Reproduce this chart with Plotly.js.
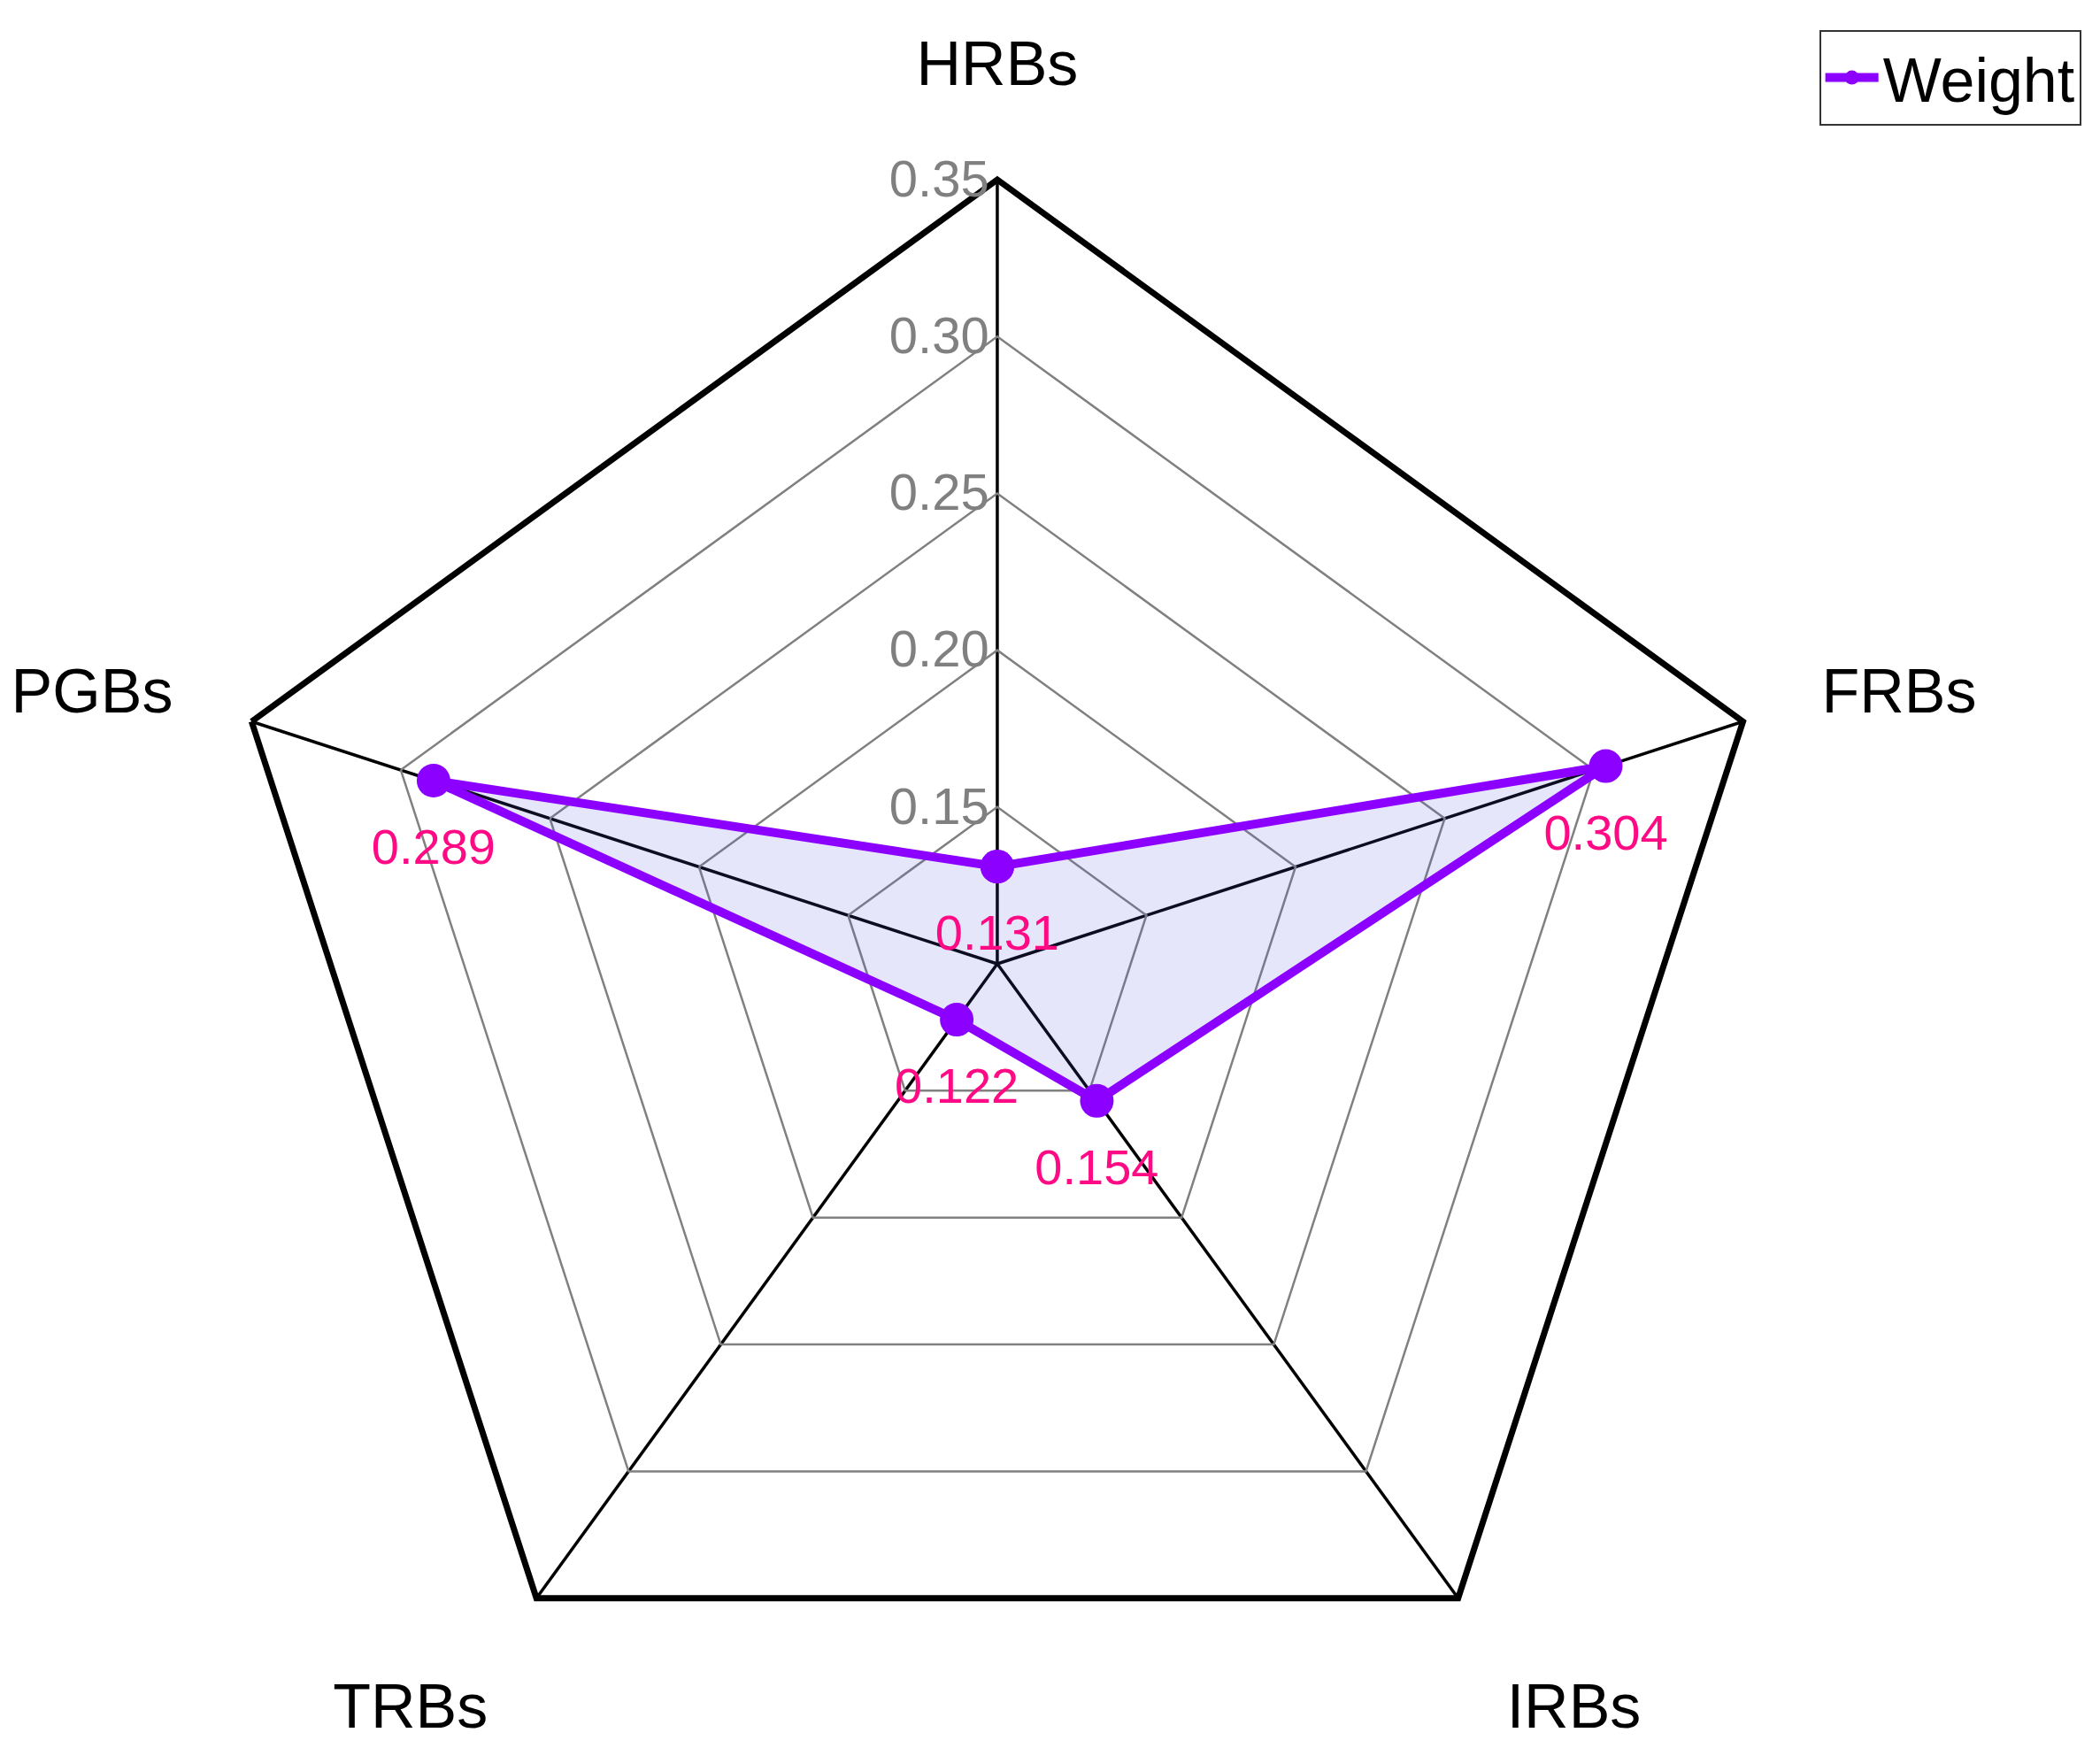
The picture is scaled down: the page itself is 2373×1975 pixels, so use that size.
<!DOCTYPE html>
<html>
<head>
<meta charset="utf-8">
<script src="https://cdn.plot.ly/plotly-3.0.1.min.js"></script>
<style>html,body{margin:0;padding:0;background:#fff;overflow:hidden}#chart{width:2373px;height:1975px}</style>
</head>
<body>
<div id="chart"></div>
<script>
// Data
const categories = ["HRBs", "FRBs", "IRBs", "TRBs", "PGBs"];
const weights = [0.131, 0.304, 0.154, 0.122, 0.289];
const radialTicks = [0.15, 0.20, 0.25, 0.30, 0.35];
const radialTickLabels = ["0.15", "0.20", "0.25", "0.30", "0.35"];
const seriesName = "Weight";

const thetaClosed = categories.concat([categories[0]]);
const rClosed = weights.concat([weights[0]]);
const FONT = "Liberation Sans, Arial, sans-serif";

const traces = [
  {
    type: "scatterpolar",
    name: seriesName,
    r: rClosed,
    theta: thetaClosed,
    mode: "lines+markers",
    fill: "toself",
    fillcolor: "rgba(88,88,222,0.15)",
    line: {color: "#8C00FF", width: 10},
    marker: {color: "#8C00FF", size: 38},
    hoverinfo: "skip"
  },
  {
    type: "scatterpolar",
    showlegend: false,
    r: weights,
    theta: categories,
    mode: "markers+text",
    text: weights.map(v => v.toFixed(3)),
    textposition: "bottom center",
    textfont: {family: FONT, size: 56, color: "#FF0A85"},
    marker: {color: "rgba(0,0,0,0)", size: 82},
    hoverinfo: "skip"
  }
];

const layout = {
  width: 2373,
  height: 1975,
  margin: {l: 0, r: 0, t: 0, b: 0},
  paper_bgcolor: "#ffffff",
  font: {family: FONT, color: "#000"},
  showlegend: true,
  legend: {
    x: 0.991, xanchor: "right",
    y: 0.983, yanchor: "top",
    bgcolor: "#ffffff",
    bordercolor: "#333333",
    borderwidth: 2,
    font: {family: FONT, size: 70, color: "#000"},
    itemwidth: 60
  },
  polar: {
    domain: {x: [0.0986, 0.8512], y: [0, 0.8972]},
    bgcolor: "#ffffff",
    gridshape: "linear",
    angularaxis: {
      direction: "clockwise",
      rotation: 90,
      linecolor: "#000",
      linewidth: 7,
      showline: true,
      gridcolor: "#000",
      gridwidth: 3.5,
      ticks: "outside",
      ticklen: 76,
      tickcolor: "rgba(0,0,0,0)",
      tickfont: {family: FONT, size: 70, color: "#000"}
    },
    radialaxis: {
      range: [0.10, 0.35],
      angle: 90,
      side: "counterclockwise",
      tickangle: 90,
      tickvals: radialTicks,
      ticktext: radialTickLabels,
      showline: false,
      ticks: "",
      gridcolor: "#808080",
      gridwidth: 2.5,
      tickfont: {family: FONT, size: 58, color: "#808080"}
    }
  }
};

Plotly.newPlot("chart", traces, layout, {displayModeBar: false, staticPlot: true});
</script>
</body>
</html>
